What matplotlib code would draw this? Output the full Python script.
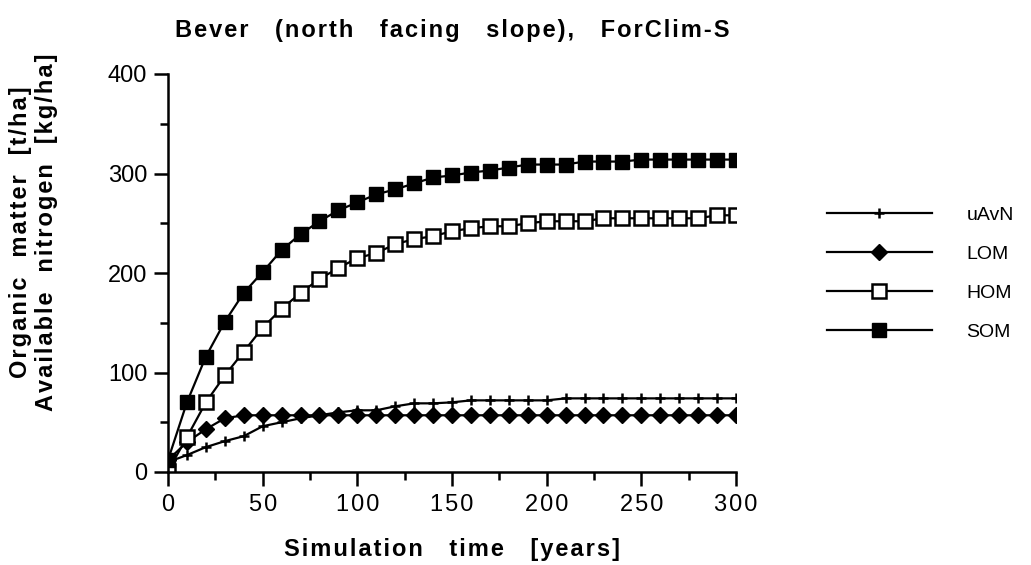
import matplotlib
matplotlib.use("Agg")
import matplotlib.pyplot as plt
import numpy as np

plt.rcParams['font.family'] = ['Liberation Sans', 'DejaVu Sans']

# Simulation time (years)
years = list(range(0, 301, 10))

# Series values
uavn = [10, 17, 25, 31, 36, 46, 50, 54, 57, 60, 62, 62, 66, 69, 69, 70,
        72, 72, 72, 72, 72, 74, 74, 74, 74, 74, 74, 74, 74, 74, 74]
lom = [12, 30, 43, 54, 57, 57, 57, 57, 57, 57, 57, 57, 57, 57, 57, 57,
       57, 57, 57, 57, 57, 57, 57, 57, 57, 57, 57, 57, 57, 57, 57]
hom = [1, 35, 70, 97, 121, 145, 164, 180, 194, 205, 215, 220, 229, 234, 237, 242,
       245, 247, 247, 250, 252, 252, 252, 255, 255, 255, 255, 255, 255, 258, 258]
som = [12, 70, 116, 151, 180, 201, 223, 239, 252, 263, 271, 279, 284, 290, 296, 298,
       301, 303, 306, 309, 309, 309, 312, 312, 312, 314, 314, 314, 314, 314, 314]

x_ticks = [0, 50, 100, 150, 200, 250, 300]
y_ticks = [0, 100, 200, 300, 400]


def spaced(s, sep='\u200a'):
    # old plotting software spreads the letters a bit
    return sep.join(s)


def words(s, gap=4, sep='\u200a'):
    return (' ' * gap).join(spaced(w, sep) for w in s.split())


fig = plt.figure(figsize=(10.31, 5.65), dpi=100)
ax = fig.add_axes([168 / 1031, 1 - 472 / 565, 568 / 1031, 398 / 565])

lw = 1.6
ax.plot(years, uavn, color='black', lw=lw, marker='+', ms=7, mew=1.8, label='uAvN')
ax.plot(years, lom, color='black', lw=lw, marker='D', ms=8, label='LOM')
ax.plot(years, hom, color='black', lw=lw, marker='s', ms=9.5, mfc='white', mew=1.8, label='HOM')
ax.plot(years, som, color='black', lw=lw, marker='s', ms=9.5, label='SOM')

ax.set_xlim(0, 300)
ax.set_ylim(0, 400)
ax.set_xticks(x_ticks)
ax.set_xticklabels([spaced(str(v)) for v in x_ticks])
ax.set_yticks(y_ticks)
ax.set_xticks(np.arange(25, 300, 50), minor=True)
ax.set_yticks(np.arange(50, 400, 100), minor=True)

for side in ['top', 'right']:
    ax.spines[side].set_visible(False)
for side in ['left', 'bottom']:
    ax.spines[side].set_linewidth(1.8)

ax.tick_params(which='major', direction='out', length=10, width=1.8, labelsize=17)
ax.tick_params(axis='x', pad=6)
ax.tick_params(axis='y', pad=5)
ax.tick_params(which='minor', direction='out', length=6, width=1.8)

ax.set_xlabel(words('Simulation time [years]'), fontsize=17, fontweight='bold')
ax.xaxis.set_label_coords(0.5, -0.165)
ax.set_ylabel(words('Organic matter [t/ha]', 3) + '\n' + words('Available nitrogen [kg/ha]', 3),
              fontsize=17, fontweight='bold', linespacing=1.15, multialignment='center')
ax.yaxis.set_label_coords(-0.194, 0.603)

fig.text(0.5 * (168 + 736) / 1031, 1 - 30 / 565,
         words('Bever (north facing slope), ForClim-S'),
         fontsize=17, fontweight='bold', ha='center', va='center')

ax.legend(loc='upper left', bbox_to_anchor=(809 / 1031, 1 - 189 / 565),
          bbox_transform=fig.transFigure, frameon=False, numpoints=1,
          handlelength=5.4, handletextpad=1.8, labelspacing=1.1, fontsize=14)

fig.savefig('out.png', dpi=100)
